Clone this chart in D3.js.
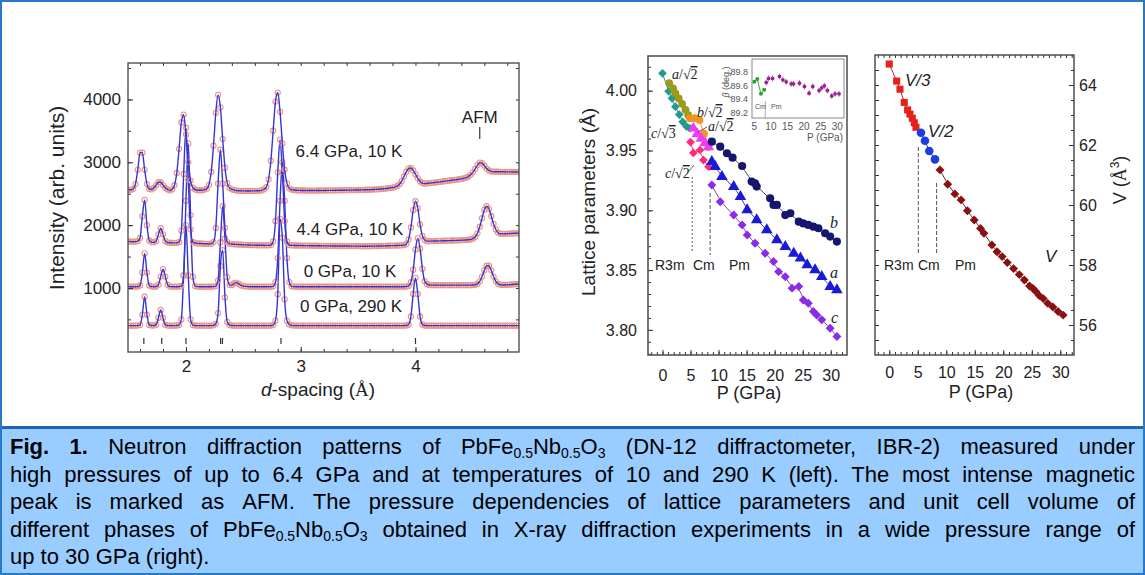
<!DOCTYPE html>
<html>
<head>
<meta charset="utf-8">
<script src="https://cdn.jsdelivr.net/npm/d3@7"></script>
<style>
  html, body { margin: 0; padding: 0; background: #fff; }
  svg { display: block; }
</style>
</head>
<body>
<svg id="chart" width="1145" height="575"></svg>
<script>
// ---------------- Neutron diffraction patterns (left panel) ----------------
// Intensities sampled on a uniform d-spacing grid: d = D_START + i * D_STEP
const D_START = 1.50, D_STEP = 0.02;
const patternLabels = ["6.4 GPa, 10 K", "4.4 GPa, 10 K", "0 GPa, 10 K", "0 GPa, 290 K"];

const int64GPa10K = [
  2562,2562,2575,2653,2880,3153,3153,2880,2653,2575,
  2568,2592,2638,2683,2683,2638,2592,2568,2552,2570,
  2635,2830,3215,3634,3760,3442,3003,2709,2595,2565,
  2556,2555,2555,2562,2577,2642,2846,3265,3787,4073,
  3875,3370,2913,2669,2590,2570,2558,2550,2546,2545,
  2545,2544,2544,2544,2545,2545,2546,2548,2552,2570,
  2605,2729,3025,3502,3966,4110,3803,3298,2882,2664,
  2585,2566,2558,2555,2553,2552,2552,2551,2550,2550,
  2550,2550,2551,2551,2552,2552,2552,2553,2553,2553,
  2554,2554,2555,2555,2556,2556,2557,2557,2558,2558,
  2559,2560,2561,2562,2563,2564,2566,2568,2570,2572,
  2575,2578,2582,2586,2592,2598,2606,2620,2650,2700,
  2775,2850,2900,2910,2870,2810,2745,2695,2670,2660,
  2665,2668,2672,2676,2680,2685,2690,2695,2700,2705,
  2710,2715,2720,2725,2730,2735,2745,2755,2770,2800,
  2840,2895,2955,2995,2985,2945,2900,2870,2855,2850,
  2850,2850,2849,2849,2848,2848,2847,2847,2846,2846,
  2845
];
const int44GPa10K = [
  1740,1738,1736,1738,1745,1795,2140,2400,2000,1757,
  1730,1726,1745,1853,1950,1853,1745,1722,1720,1718,
  1717,1718,1728,1912,2814,3550,2722,1931,1735,1714,
  1710,1708,1706,1704,1703,1702,1705,1730,1955,2660,
  3200,2660,1955,1730,1705,1698,1695,1693,1691,1689,
  1686,1685,1684,1683,1682,1681,1680,1680,1679,1679,
  1678,1678,1683,1740,2066,2840,3360,2840,2066,1740,
  1683,1678,1677,1676,1676,1675,1675,1674,1674,1673,
  1673,1672,1672,1671,1671,1670,1670,1670,1669,1669,
  1669,1668,1668,1668,1667,1667,1667,1666,1666,1666,
  1666,1665,1665,1665,1665,1665,1666,1666,1667,1668,
  1669,1670,1671,1672,1673,1674,1675,1676,1677,1679,
  1681,1700,1771,1963,2238,2380,2270,2010,1830,1765,
  1745,1745,1746,1747,1748,1749,1750,1751,1752,1753,
  1754,1755,1756,1757,1758,1760,1762,1764,1767,1771,
  1785,1810,1870,1975,2110,2245,2300,2260,2145,2020,
  1930,1880,1862,1860,1862,1865,1866,1868,1870,1870,
  1870
];
const int0GPa10K = [
  1020,1020,1020,1020,1022,1040,1245,1550,1245,1040,
  1022,1020,1022,1051,1182,1300,1182,1051,1022,1020,
  1020,1020,1022,1030,1202,2388,3300,2160,1180,1030,
  1022,1020,1020,1020,1020,1020,1020,1022,1030,1122,
  1724,2300,1788,1174,1050,1045,1075,1085,1065,1040,
  1030,1025,1022,1020,1020,1020,1020,1020,1020,1020,
  1020,1020,1021,1026,1093,1475,2386,3000,2386,1475,
  1093,1026,1021,1020,1020,1020,1020,1020,1020,1020,
  1020,1020,1020,1020,1020,1020,1020,1020,1020,1020,
  1020,1020,1020,1020,1020,1020,1020,1020,1020,1020,
  1020,1020,1020,1020,1020,1020,1020,1020,1020,1020,
  1020,1020,1020,1020,1020,1020,1020,1020,1020,1020,
  1020,1022,1032,1092,1290,1612,1790,1625,1305,1110,
  1060,1048,1045,1045,1045,1045,1045,1045,1045,1045,
  1045,1045,1045,1045,1045,1045,1045,1045,1045,1045,
  1047,1050,1065,1105,1181,1280,1354,1354,1280,1181,
  1105,1065,1052,1048,1048,1050,1052,1055,1058,1060,
  1062
];
const int0GPa290K = [
  400,400,400,401,402,412,575,860,575,412,
  403,401,416,525,650,525,416,401,400,400,
  400,403,410,500,1200,2000,1200,500,410,403,
  401,400,400,400,400,400,401,405,430,600,
  1350,1600,850,460,410,402,400,400,400,400,
  400,400,400,400,400,400,400,400,400,400,
  400,400,402,410,480,900,2100,1800,820,480,
  420,405,401,400,400,400,400,400,400,400,
  400,400,400,400,400,400,400,400,400,400,
  400,400,400,400,400,400,400,400,400,400,
  400,400,400,400,400,400,400,400,400,400,
  400,400,400,400,400,400,400,400,400,400,
  400,402,419,547,904,1160,904,547,419,402,
  400,400,400,400,400,400,400,400,400,400,
  400,400,400,400,400,400,400,400,400,400,
  400,400,400,400,400,400,400,400,400,400,
  400,400,400,400,400,400,400,400,400,400,
  400
];
const braggPositions = [1.633, 1.789, 2.0, 2.302, 2.318, 2.828, 4.0];
const afmPeak = 4.56;
const dTicks = [2, 3, 4];
const intensityTicks = [1000, 2000, 3000, 4000];

// ---------------- Lattice parameters vs pressure (middle panel) ----------------
const r3mA_P = [1.2, 1.9, 2.3, 2.9, 3.5, 4.1, 4.6];
const r3mA   = [4.0062, 4.0020, 3.9978, 3.9935, 3.9890, 3.9840, 3.9795];
const r3mC_P = [0, 1.1, 1.7, 2.3, 3.0, 3.6, 4.3, 4.9];
const r3mC   = [4.0145, 3.9995, 3.9936, 3.9866, 3.9800, 3.9740, 3.9700, 3.9686];
const cmB_P  = [4.9, 5.8, 6.6, 7.4, 8.2];
const cmB    = [3.9770, 3.9770, 3.9755, 3.9640, 3.9530];
const cmA_P  = [5.5, 6.2, 6.9, 7.6, 8.2];
const cmA    = [3.9686, 3.9640, 3.9600, 3.9565, 3.9530];
const cmC_P  = [5.0, 5.5, 6.7, 7.3, 8.2];
const cmC    = [3.9570, 3.9480, 3.9504, 3.9420, 3.9365];
const pmB_P  = [8.8, 10.3, 11.5, 12.5, 14.2, 15.9, 16.5, 16.8, 19.2, 19.8, 20.4, 21.9, 22.8, 24.3, 25.1, 26.0, 26.9, 27.8, 29.0, 29.9, 31.1];
const pmB    = [3.9574, 3.9532, 3.9477, 3.9440, 3.9370, 3.9240, 3.9226, 3.9198, 3.9100, 3.9045, 3.9045, 3.8960, 3.8975, 3.8905, 3.8890, 3.8878, 3.8863, 3.8850, 3.8808, 3.8780, 3.8738];
const pmA_P  = [8.8, 9.4, 10.6, 12.7, 13.9, 15.1, 16.8, 18.6, 20.4, 21.9, 23.4, 24.6, 25.8, 27.2, 28.4, 29.9, 31.1];
const pmA    = [3.9407, 3.9365, 3.9281, 3.9198, 3.9114, 3.9003, 3.8920, 3.8836, 3.8752, 3.8696, 3.8640, 3.8599, 3.8543, 3.8501, 3.8445, 3.8362, 3.8334];
const pmC_P  = [8.8, 10.3, 12.7, 14.2, 15.1, 16.5, 18.3, 19.8, 20.7, 21.9, 23.1, 24.3, 25.1, 26.0, 26.9, 27.5, 28.4, 29.9, 31.1];
const pmC    = [3.9212, 3.9072, 3.8961, 3.8878, 3.8794, 3.8725, 3.8640, 3.8571, 3.8487, 3.8445, 3.8349, 3.8362, 3.8250, 3.8223, 3.8153, 3.8125, 3.8084, 3.8014, 3.7944];
const latticeTicks = [3.80, 3.85, 3.90, 3.95, 4.00];
const pressureTicks = [0, 5, 10, 15, 20, 25, 30];
const latticeBounds = [5.3, 8.5];
const phaseNames = ["R3m", "Cm", "Pm"];

// Monoclinic angle (inset)
const betaCm_P = [5.0, 5.9, 7.0, 8.0];
const betaCm   = [89.66, 89.70, 89.48, 89.54];
const betaPm_P = [8.6, 9.3, 10.5, 12.6, 13.6, 14.6, 16.1, 16.8, 18.6, 20.1, 21.5, 22.6, 24.5, 25.3, 26.1, 27.0, 28.3, 29.3, 30.5];
const betaPm   = [89.65, 89.71, 89.71, 89.74, 89.69, 89.66, 89.63, 89.63, 89.64, 89.59, 89.49, 89.59, 89.53, 89.57, 89.60, 89.53, 89.45, 89.48, 89.48];
const betaTicks = [89.2, 89.4, 89.6, 89.8];
const insetPTicks = [5, 10, 15, 20, 25, 30];

// ---------------- Unit cell volume vs pressure (right panel) ----------------
const volR3m_P = [0, 1.3, 1.88, 2.63, 3.22, 3.63, 4.04, 4.39, 4.68];
const volR3m   = [64.70, 64.13, 63.86, 63.42, 63.17, 63.03, 62.89, 62.74, 62.59];
const volCm_P  = [5.56, 6.26, 7.02, 8.02];
const volCm    = [62.41, 62.14, 61.80, 61.52];
const volPm_P  = [8.9, 10.25, 11.5, 12.6, 13.7, 14.9, 16.0, 16.6, 18.0, 18.9, 19.8, 20.7, 21.8, 22.8, 23.7, 24.6, 25.2, 25.7, 26.3, 27.0, 27.8, 28.7, 29.6, 30.5];
const volPm    = [61.17, 60.69, 60.37, 60.17, 59.81, 59.50, 59.22, 59.06, 58.67, 58.44, 58.28, 58.08, 57.88, 57.68, 57.50, 57.30, 57.22, 57.12, 56.98, 56.88, 56.72, 56.60, 56.45, 56.33];
const volumeTicks = [56, 58, 60, 62, 64];
const volumeBounds = [5.1, 8.3];

// ---------------- Caption ----------------
const captionLines = [
  "*Fig. *1. Neutron diffraction patterns of PbFe~0.5~Nb~0.5~O~3 (DN-12 diffractometer, IBR-2) measured under",
  "high pressures of up to 6.4 GPa and at temperatures of 10 and 290 K (left). The most intense magnetic",
  "peak is marked as AFM. The pressure dependencies of lattice parameters and unit cell volume of",
  "different phases of PbFe~0.5~Nb~0.5~O~3 obtained in X-ray diffraction experiments in a wide pressure range of",
  "up to 30 GPa (right)."
];

// =====================================================================
const SANS = "'Liberation Sans', Arial, sans-serif";
const SERIF = "'Liberation Serif', 'Times New Roman', serif";
const svg = d3.select("#chart");

// background, caption band and border
svg.append("rect").attr("width", 1145).attr("height", 575).attr("fill", "#fff");
svg.append("rect").attr("x", 0).attr("y", 428).attr("width", 1145).attr("height", 147).attr("fill", "#99ccff");
svg.append("line").attr("x1", 0).attr("x2", 1145).attr("y1", 427.5).attr("y2", 427.5)
  .attr("stroke", "#1f66b8").attr("stroke-width", 3);
svg.append("rect").attr("x", 1).attr("y", 1).attr("width", 1143).attr("height", 573)
  .attr("fill", "none").attr("stroke", "#2a78c8").attr("stroke-width", 2);

function axis(g, gen, values, size, fmt, pad, fs) {
  const a = gen.tickValues(values).tickSize(-size).tickPadding(pad).tickFormat(fmt || (() => ""));
  g.call(a);
  g.select(".domain").remove();
  g.attr("font-family", SANS).attr("font-size", fs || 10).attr("color", "#333");
  g.selectAll("text").attr("fill", "#222");
  g.selectAll("line").attr("stroke-width", 1);
}
function minor(lo, hi, step) {
  return d3.range(Math.round(lo / step), Math.round(hi / step) + 1).map(k => +(k * step).toFixed(4));
}

// ---------------- Left panel ----------------
const L = { x0: 128, x1: 519, y0: 63, y1: 352 };
const xD = d3.scaleLinear().domain([1.495, 4.902]).range([L.x0, L.x1]);
const yInt = d3.scaleLinear().domain([-19, 4580]).range([L.y1, L.y0]);

svg.append("clipPath").attr("id", "clipL").append("rect")
  .attr("x", L.x0).attr("y", L.y0).attr("width", L.x1 - L.x0).attr("height", L.y1 - L.y0);
const plotL = svg.append("g").attr("clip-path", "url(#clipL)");

const patterns = [int0GPa290K, int0GPa10K, int44GPa10K, int64GPa10K];
patterns.forEach(vals => {
  const pts = vals.map((v, i) => [D_START + i * D_STEP, v]);
  plotL.append("g").selectAll("circle").data(pts).join("circle")
    .attr("cx", d => xD(d[0])).attr("cy", d => yInt(d[1])).attr("r", 2.6)
    .attr("fill", "none").attr("stroke", "#ee9482").attr("stroke-width", 1.1);
  plotL.append("path").datum(pts)
    .attr("d", d3.line().x(d => xD(d[0])).y(d => yInt(d[1])).curve(d3.curveMonotoneX))
    .attr("fill", "none").attr("stroke", "#3535d6").attr("stroke-width", 1.4);
});

// reflection markers
svg.append("g").selectAll("line").data(braggPositions).join("line")
  .attr("x1", d => xD(d)).attr("x2", d => xD(d)).attr("y1", 338).attr("y2", 344)
  .attr("stroke", "#333").attr("stroke-width", 1.2);

// AFM marker
svg.append("line").attr("x1", xD(afmPeak)).attr("x2", xD(afmPeak)).attr("y1", 127).attr("y2", 139)
  .attr("stroke", "#333").attr("stroke-width", 1.2);
svg.append("text").attr("x", xD(afmPeak)).attr("y", 123).attr("text-anchor", "middle")
  .attr("font-family", SANS).attr("font-size", 17).attr("fill", "#222").text("AFM");

// pattern labels
const labelPos = [[349, 157], [350, 235], [350, 277], [351, 312]];
patternLabels.forEach((t, i) => {
  svg.append("text").attr("x", labelPos[i][0]).attr("y", labelPos[i][1]).attr("text-anchor", "middle")
    .attr("font-family", SANS).attr("font-size", 17).attr("fill", "#222").text(t);
});

// axes
axis(svg.append("g").attr("transform", `translate(0,${L.y1})`), d3.axisBottom(xD), minor(1.6, 4.8, 0.2), 3);
axis(svg.append("g").attr("transform", `translate(0,${L.y1})`), d3.axisBottom(xD), dTicks, 5, d3.format("d"), 8, 17);
axis(svg.append("g").attr("transform", `translate(0,${L.y0})`), d3.axisTop(xD), minor(1.6, 4.8, 0.2), 3);
axis(svg.append("g").attr("transform", `translate(${L.x0},0)`), d3.axisLeft(yInt), minor(500, 4500, 500), 3);
axis(svg.append("g").attr("transform", `translate(${L.x0},0)`), d3.axisLeft(yInt), intensityTicks, 5, d3.format("d"), 7, 17);
axis(svg.append("g").attr("transform", `translate(${L.x1},0)`), d3.axisRight(yInt), minor(500, 4500, 500), 3);
svg.append("rect").attr("x", L.x0).attr("y", L.y0).attr("width", L.x1 - L.x0).attr("height", L.y1 - L.y0)
  .attr("fill", "none").attr("stroke", "#444").attr("stroke-width", 1.3);

svg.append("text").attr("transform", "translate(64,198) rotate(-90)").attr("text-anchor", "middle")
  .attr("font-family", SANS).attr("font-size", 21).attr("fill", "#222").text("Intensity (arb. units)");
const xt = svg.append("text").attr("x", 318).attr("y", 396).attr("text-anchor", "middle")
  .attr("font-family", SANS).attr("font-size", 19).attr("fill", "#222");
xt.append("tspan").attr("font-style", "italic").text("d");
xt.append("tspan").text("-spacing (");
xt.append("tspan").attr("font-family", SERIF).text("Å");
xt.append("tspan").text(")");

// ---------------- Middle panel ----------------
const M = { x0: 648, x1: 847, y0: 56, y1: 355 };
const xP = d3.scaleLinear().domain([-2.58, 32.9]).range([M.x0, M.x1]);
const yLat = d3.scaleLinear().domain([3.779, 4.029]).range([M.y1, M.y0]);

const DIAMOND = { type: d3.symbolSquare, rot: 45 };
const CIRCLE = { type: d3.symbolCircle, rot: 0 };
const TRIANGLE = { type: d3.symbolTriangle, rot: 0 };
const SQUARE = { type: d3.symbolSquare, rot: 0 };

function series(g, xs, ys, P, vals, color, shape, size, lineColor) {
  const pts = P.map((p, i) => [xs(p), ys(vals[i])]);
  g.append("path").attr("d", d3.line().curve(d3.curveBasis)(pts))
    .attr("fill", "none").attr("stroke", lineColor || color).attr("stroke-width", 1);
  const sym = d3.symbol().type(shape.type).size(size);
  g.append("g").selectAll("path").data(pts).join("path")
    .attr("transform", d => `translate(${d[0]},${d[1]}) rotate(${shape.rot})`)
    .attr("d", sym).attr("fill", color);
}

const gM = svg.append("g");
series(gM, xP, yLat, r3mC_P, r3mC, "#1f9a8c", DIAMOND, 38);
series(gM, xP, yLat, r3mA_P, r3mA, "#9c9a1c", CIRCLE, 48);
series(gM, xP, yLat, cmB_P, cmB, "#f39421", CIRCLE, 48);
series(gM, xP, yLat, cmC_P, cmC, "#ff2a7a", DIAMOND, 38);
series(gM, xP, yLat, cmA_P, cmA, "#f03cf0", TRIANGLE, 55);
series(gM, xP, yLat, pmB_P, pmB, "#16166e", CIRCLE, 52, "#3a3a80");
series(gM, xP, yLat, pmA_P, pmA, "#1a1ad6", TRIANGLE, 58, "#3a3ab0");
series(gM, xP, yLat, pmC_P, pmC, "#8b2be6", DIAMOND, 40, "#7a4ab0");

// phase boundaries
[[latticeBounds[0], 177, 253, "2,2"], [latticeBounds[1], 193, 255, "4,2"]].forEach(b => {
  svg.append("line").attr("x1", xP(b[0])).attr("x2", xP(b[0])).attr("y1", b[1]).attr("y2", b[2])
    .attr("stroke", "#555").attr("stroke-width", 1).attr("stroke-dasharray", b[3]);
});
[[655, "start"], [693, "start"], [729, "start"]].forEach((p, i) => {
  svg.append("text").attr("x", p[0]).attr("y", 270).attr("font-family", SANS).attr("font-size", 14)
    .attr("fill", "#222").text(phaseNames[i]);
});

// series labels
function rootLabel(x, y, sym, n, size) {
  const t = svg.append("text").attr("x", x).attr("y", y).attr("font-family", SERIF)
    .attr("font-size", size || 14).attr("fill", "#222");
  t.append("tspan").attr("font-style", "italic").text(sym);
  t.append("tspan").text("/√");
  t.append("tspan").style("text-decoration", "overline").text(n);
}
rootLabel(672, 79, "a", "2");
rootLabel(697, 117, "b", "2");
rootLabel(708, 131, "a", "2");
rootLabel(651, 138, "c", "3");
rootLabel(665, 178, "c", "2");
svg.append("line").attr("x1", 698).attr("y1", 132).attr("x2", 707).attr("y2", 127).attr("stroke", "#333").attr("stroke-width", 0.8);
svg.append("line").attr("x1", 688).attr("y1", 172).attr("x2", 694).attr("y2", 165).attr("stroke", "#333").attr("stroke-width", 0.8);
[["b", 830, 228], ["a", 830, 278], ["c", 831, 323]].forEach(l => {
  svg.append("text").attr("x", l[1]).attr("y", l[2]).attr("font-family", SERIF).attr("font-style", "italic")
    .attr("font-size", 16).attr("fill", "#222").text(l[0]);
});

axis(svg.append("g").attr("transform", `translate(0,${M.y1})`), d3.axisBottom(xP), minor(-2, 32, 1), 3);
axis(svg.append("g").attr("transform", `translate(0,${M.y1})`), d3.axisBottom(xP), pressureTicks, 5, d3.format("d"), 15, 16);
axis(svg.append("g").attr("transform", `translate(${M.x0},0)`), d3.axisLeft(yLat), minor(3.78, 4.02, 0.01), 3);
axis(svg.append("g").attr("transform", `translate(${M.x0},0)`), d3.axisLeft(yLat), latticeTicks, 5, d3.format(".2f"), 11, 16);
svg.append("rect").attr("x", M.x0).attr("y", M.y0).attr("width", M.x1 - M.x0).attr("height", M.y1 - M.y0)
  .attr("fill", "none").attr("stroke", "#555").attr("stroke-width", 1.6);
svg.append("text").attr("transform", "translate(595,202) rotate(-90)").attr("text-anchor", "middle")
  .attr("font-family", SANS).attr("font-size", 19).attr("fill", "#222").text("Lattice parameters (Å)");
svg.append("text").attr("x", 749).attr("y", 399).attr("text-anchor", "middle")
  .attr("font-family", SANS).attr("font-size", 18).attr("fill", "#222").text("P (GPa)");

// inset: monoclinic angle
const I = { x0: 752, x1: 844, y0: 59, y1: 118 };
const xIn = d3.scaleLinear().domain([4.31, 32.0]).range([I.x0, I.x1]);
const yBeta = d3.scaleLinear().domain([89.12, 90.0]).range([I.y1, I.y0]);
svg.append("rect").attr("x", I.x0).attr("y", I.y0).attr("width", I.x1 - I.x0).attr("height", I.y1 - I.y0)
  .attr("fill", "#fff").attr("stroke", "#888").attr("stroke-width", 1);
svg.append("line").attr("x1", xIn(8.3)).attr("x2", xIn(8.3)).attr("y1", 101).attr("y2", I.y1)
  .attr("stroke", "#999").attr("stroke-width", 0.8);
const cmPts = betaCm_P.map((p, i) => [xIn(p), yBeta(betaCm[i])]);
svg.append("path").attr("d", d3.line()(cmPts)).attr("fill", "none").attr("stroke", "#3aa83a").attr("stroke-width", 1);
svg.append("g").selectAll("circle").data(cmPts).join("circle")
  .attr("cx", d => d[0]).attr("cy", d => d[1]).attr("r", 2).attr("fill", "#2e9e2e");
const pmPts = betaPm_P.map((p, i) => [xIn(p), yBeta(betaPm[i])]);
const gb = svg.append("g");
gb.selectAll("line").data(pmPts).join("line")
  .attr("x1", d => d[0]).attr("x2", d => d[0]).attr("y1", d => d[1] - 3).attr("y2", d => d[1] + 3)
  .attr("stroke", "#b04aa8").attr("stroke-width", 0.8);
gb.selectAll("circle").data(pmPts).join("circle")
  .attr("cx", d => d[0]).attr("cy", d => d[1]).attr("r", 1.9).attr("fill", "#9a2394");
svg.append("g").selectAll("text").data(betaTicks).join("text")
  .attr("x", I.x0 - 4).attr("y", d => yBeta(d) + 3).attr("text-anchor", "end")
  .attr("font-family", SANS).attr("font-size", 9).attr("fill", "#555").text(d => d.toFixed(1));
svg.append("g").selectAll("text").data(insetPTicks).join("text")
  .attr("x", d => xIn(d)).attr("y", 130).attr("text-anchor", "middle")
  .attr("font-family", SANS).attr("font-size", 10).attr("fill", "#555").text(d => d);
svg.append("text").attr("x", 843).attr("y", 141).attr("text-anchor", "end")
  .attr("font-family", SANS).attr("font-size", 10).attr("fill", "#555").text("P (GPa)");
const bt = svg.append("text").attr("transform", "translate(729,82) rotate(-90)").attr("text-anchor", "middle")
  .attr("font-family", SANS).attr("font-size", 9).attr("fill", "#555");
bt.append("tspan").attr("font-style", "italic").text("β");
bt.append("tspan").text(" (deg.)");
svg.append("text").attr("x", 755).attr("y", 109).attr("font-family", SANS).attr("font-size", 7).attr("fill", "#555").text("Cm");
svg.append("text").attr("x", 771).attr("y", 109).attr("font-family", SANS).attr("font-size", 7).attr("fill", "#555").text("Pm");

// ---------------- Right panel ----------------
const R = { x0: 875, x1: 1074, y0: 55, y1: 355 };
const xPR = d3.scaleLinear().domain([-2.5, 32.4]).range([R.x0, R.x1]);
const yVol = d3.scaleLinear().domain([55, 65]).range([R.y1, R.y0]);
const gR = svg.append("g");
series(gR, xPR, yVol, volR3m_P, volR3m, "#e8201c", SQUARE, 50, "#a02020");
series(gR, xPR, yVol, volCm_P, volCm, "#1c3ce6", CIRCLE, 58, "#2a2a90");
series(gR, xPR, yVol, volPm_P, volPm, "#8a1010", DIAMOND, 40, "#5a2020");

[[volumeBounds[0], 147, 253], [volumeBounds[1], 183, 253]].forEach(b => {
  svg.append("line").attr("x1", xPR(b[0])).attr("x2", xPR(b[0])).attr("y1", b[1]).attr("y2", b[2])
    .attr("stroke", "#555").attr("stroke-width", 1).attr("stroke-dasharray", "4,2");
});
[[884], [918], [955]].forEach((p, i) => {
  svg.append("text").attr("x", p[0]).attr("y", 270).attr("font-family", SANS).attr("font-size", 14)
    .attr("fill", "#222").text(phaseNames[i]);
});
[["V/3", 905, 86], ["V/2", 928, 137], ["V", 1045, 262]].forEach(l => {
  svg.append("text").attr("x", l[1]).attr("y", l[2]).attr("font-family", SANS).attr("font-style", "italic")
    .attr("font-size", 17).attr("fill", "#222").text(l[0]);
});

axis(svg.append("g").attr("transform", `translate(0,${R.y1})`), d3.axisBottom(xPR), minor(-2, 32, 1), 3);
axis(svg.append("g").attr("transform", `translate(0,${R.y1})`), d3.axisBottom(xPR), pressureTicks, 5, d3.format("d"), 12, 16);
axis(svg.append("g").attr("transform", `translate(0,${R.y0})`), d3.axisTop(xPR), minor(-2, 32, 1), 3);
axis(svg.append("g").attr("transform", `translate(${R.x0},0)`), d3.axisLeft(yVol), minor(55.5, 64.5, 0.5), 4);
axis(svg.append("g").attr("transform", `translate(${R.x1},0)`), d3.axisRight(yVol), minor(55.5, 64.5, 0.5), 3);
axis(svg.append("g").attr("transform", `translate(${R.x1},0)`), d3.axisRight(yVol), volumeTicks, 5, d3.format("d"), 5, 16);
svg.append("rect").attr("x", R.x0).attr("y", R.y0).attr("width", R.x1 - R.x0).attr("height", R.y1 - R.y0)
  .attr("fill", "none").attr("stroke", "#444").attr("stroke-width", 1.4);
svg.append("text").attr("x", 981).attr("y", 398).attr("text-anchor", "middle")
  .attr("font-family", SANS).attr("font-size", 18).attr("fill", "#222").text("P (GPa)");
const vt = svg.append("text").attr("transform", "translate(1126,180) rotate(-90)").attr("text-anchor", "middle")
  .attr("font-family", SANS).attr("font-size", 18).attr("fill", "#222");
vt.append("tspan").text("V (");
vt.append("tspan").attr("font-family", SERIF).text("Å");
vt.append("tspan").attr("font-size", 12).attr("dy", -7).text("3");
vt.append("tspan").attr("dy", 7).text(")");

// ---------------- Caption (justified lines) ----------------
(function caption() {
  const FS = 22;
  const fam = SANS;
  const W = 1125;
  const baselines = [454, 481.5, 509, 536.5, 564];
  captionLines.forEach((line, li) => {
    const g = svg.append("g").attr("transform", `translate(10,${baselines[li]})`);
    const words = line.split(" ");
    const nodes = words.map(w => {
      const bold = w.startsWith("*");
      if (bold) w = w.slice(1);
      const t = g.append("text").attr("font-family", fam).attr("font-size", FS)
        .attr("font-weight", bold ? "bold" : "normal").attr("fill", "#000");
      w.split("~").forEach((s, j) => {
        if (!s) return;
        const ts = t.append("tspan").text(s);
        if (j % 2 === 1) ts.attr("font-size", 14).attr("dy", 4);
        else if (j > 0) ts.attr("dy", -4);
      });
      return t;
    });
    const widths = nodes.map(n => n.node().getComputedTextLength());
    const total = d3.sum(widths);
    const last = li === captionLines.length - 1;
    const gap = last ? FS * 0.278 : Math.max(FS * 0.15, (W - total) / (words.length - 1));
    let x = 0;
    nodes.forEach((n, i) => { n.attr("x", x); x += widths[i] + gap; });
  });
})();
</script>
</body>
</html>
